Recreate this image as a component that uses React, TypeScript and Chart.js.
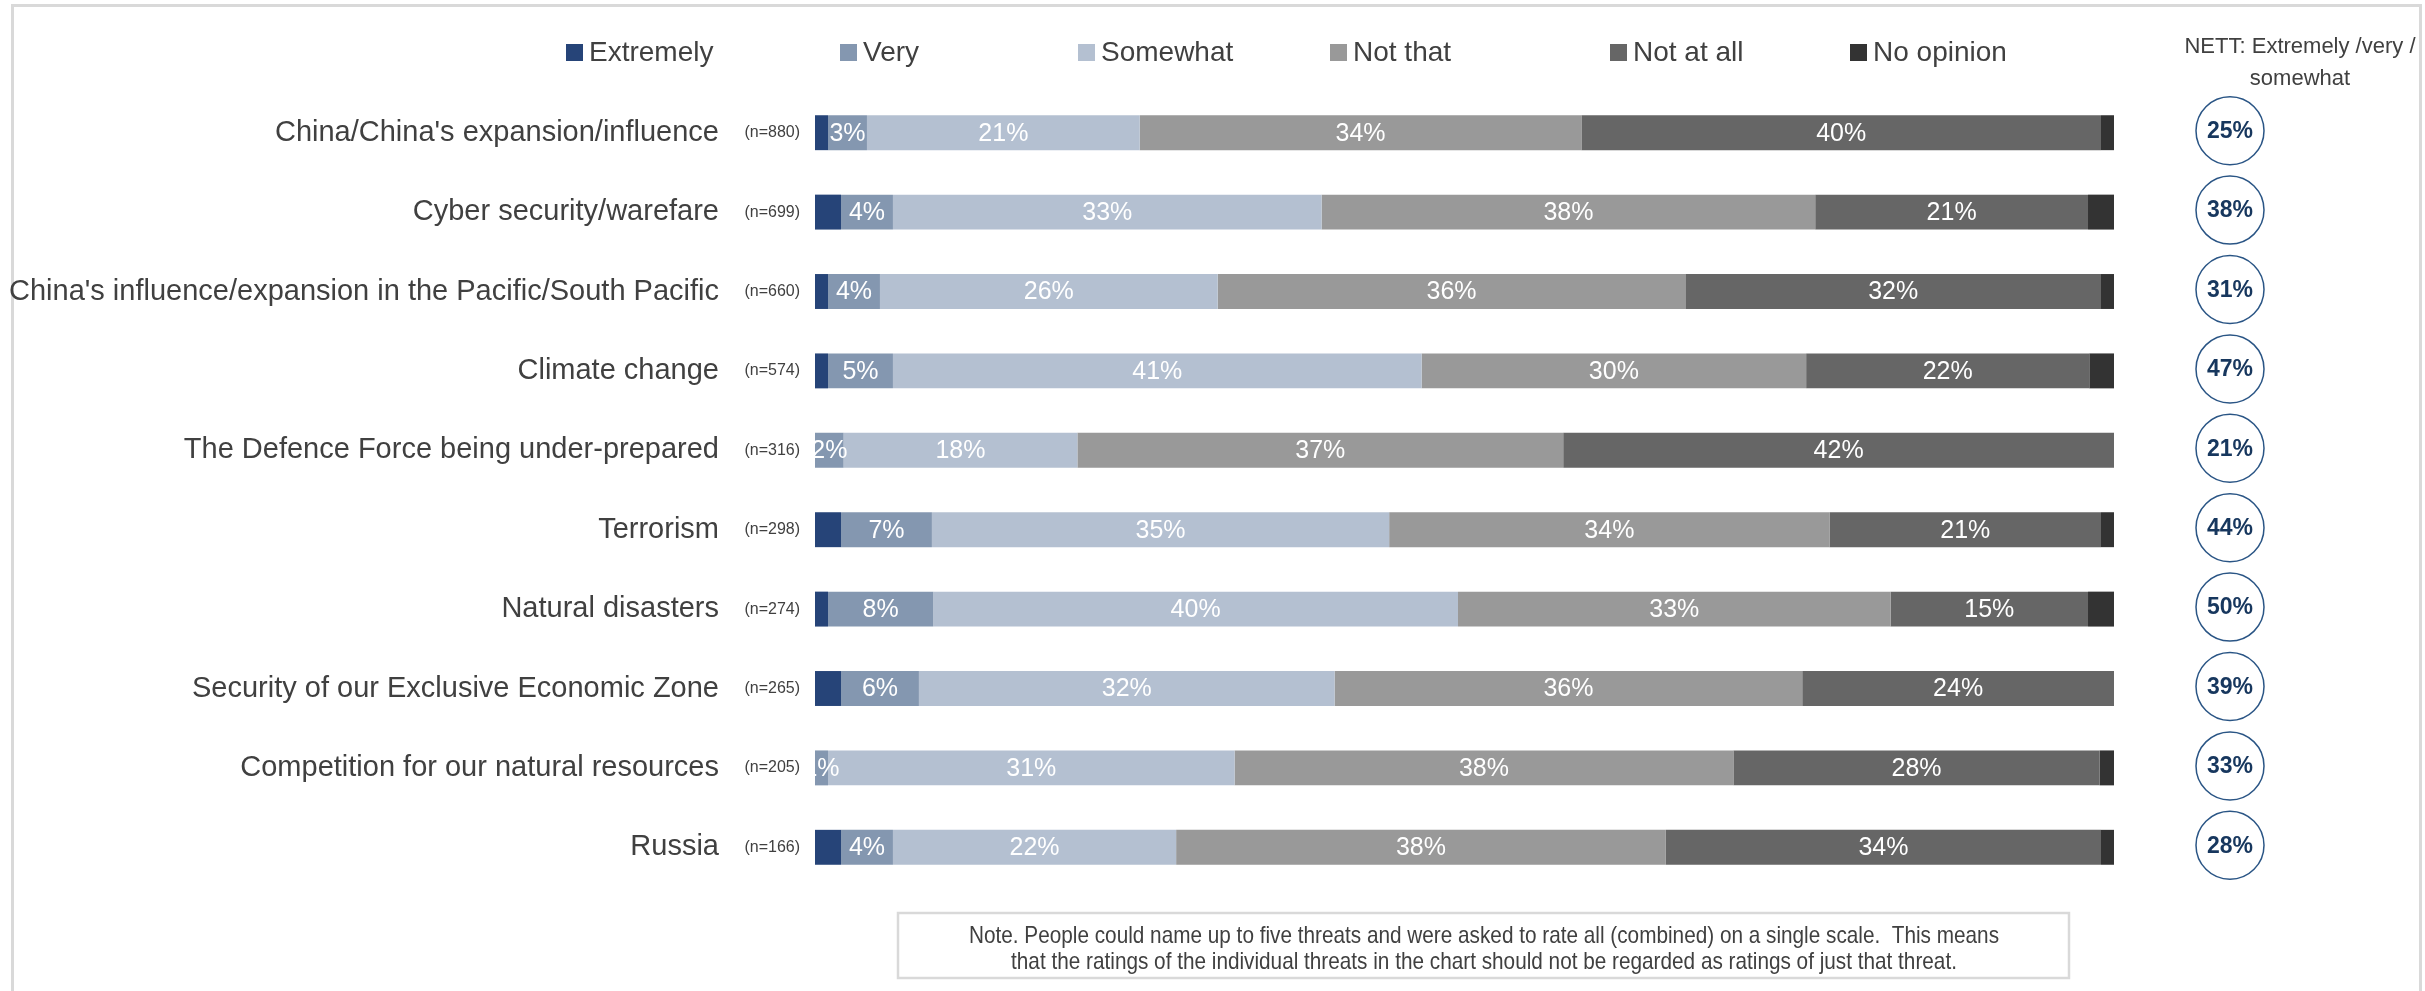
import React, { useEffect, useRef } from "react";
import { Chart, registerables } from "chart.js";

Chart.register(...registerables);

const categories = [
  "China/China's expansion/influence",
  "Cyber security/warefare",
  "China's influence/expansion in the Pacific/South Pacific",
  "Climate change",
  "The Defence Force being under-prepared",
  "Terrorism",
  "Natural disasters",
  "Security of our Exclusive Economic Zone",
  "Competition for our natural resources",
  "Russia",
];
const sampleSizes = [880, 699, 660, 574, 316, 298, 274, 265, 205, 166];

const seriesNames = ["Extremely", "Very", "Somewhat", "Not that", "Not at all", "No opinion"];
const extremely = [1, 2, 1, 1, 0, 2, 1, 2, 0, 2];
const very = [3, 4, 4, 5, 2.2, 7, 8.1, 6, 1, 4];
const somewhat = [21, 33, 26, 40.7, 18, 35.2, 40.4, 32, 31.3, 21.8];
const notThat = [34, 38, 36, 29.6, 37.4, 33.9, 33.3, 36, 38.4, 37.7];
const notAtAll = [40, 21, 32, 21.8, 42.4, 20.9, 15.2, 24, 28.2, 33.5];
const noOpinion = [1, 2, 1, 2, 0, 1.1, 2, 0, 1.1, 1.1];
const nett = [25, 38, 31, 47, 21, 44, 50, 39, 33, 28];

const nettHeader = ["NETT: Extremely /very /", "somewhat"];
const noteLines = [
  "Note. People could name up to five threats and were asked to rate all (combined) on a single scale.  This means",
  "that the ratings of the individual threats in the chart should not be regarded as ratings of just that threat.",
];

const COLORS = ["#264478", "#8497B0", "#B4C0D1", "#999999", "#666666", "#333333"];
const LABELLED = [false, true, true, true, true, false];
const FONT = "'Liberation Sans', Arial, sans-serif";
const TEXT = "#404040";
const LEGEND_X = [566, 840, 1078, 1330, 1610, 1850];

const W = 2425;
const H = 991;

const overlayPlugin = {
  id: "overlay",
  beforeDraw(chart: any) {
    const ctx = chart.ctx;
    ctx.save();
    ctx.fillStyle = "#ffffff";
    ctx.fillRect(0, 0, chart.width, chart.height);
    ctx.strokeStyle = "#d9d9d9";
    ctx.lineWidth = 3;
    ctx.strokeRect(12.5, 5.5, 2408, 1010);
    ctx.restore();
  },
  afterDatasetsDraw(chart: any) {
    const ctx = chart.ctx;
    const area = chart.chartArea;
    ctx.save();
    ctx.beginPath();
    ctx.rect(area.left, area.top, area.right - area.left, area.bottom - area.top);
    ctx.clip();
    ctx.font = `25px ${FONT}`;
    ctx.fillStyle = "#ffffff";
    ctx.textAlign = "center";
    ctx.textBaseline = "middle";
    chart.data.datasets.forEach((ds: any, di: number) => {
      if (!LABELLED[di]) return;
      const meta = chart.getDatasetMeta(di);
      meta.data.forEach((bar: any, i: number) => {
        const v = ds.data[i];
        if (!v) return;
        const cx = (bar.x + bar.base) / 2;
        ctx.fillText(`${Math.round(v)}%`, cx, bar.y + 1);
      });
    });
    ctx.restore();
  },
  afterDraw(chart: any) {
    const ctx = chart.ctx;
    const yScale = chart.scales.y;
    ctx.save();
    // legend
    ctx.textBaseline = "middle";
    ctx.textAlign = "left";
    ctx.font = `28px ${FONT}`;
    chart.data.datasets.forEach((ds: any, di: number) => {
      const x = LEGEND_X[di];
      ctx.fillStyle = ds.backgroundColor;
      ctx.fillRect(x, 44, 17, 17);
      ctx.fillStyle = TEXT;
      ctx.fillText(ds.label, x + 23, 53);
    });
    // NETT header
    ctx.textAlign = "center";
    ctx.font = `22px ${FONT}`;
    ctx.fillStyle = TEXT;
    ctx.fillText(nettHeader[0], 2300, 47);
    ctx.fillText(nettHeader[1], 2300, 79);
    // sample sizes and nett circles
    categories.forEach((_, i) => {
      const y = yScale.getPixelForValue(i);
      ctx.textAlign = "right";
      ctx.font = `16px ${FONT}`;
      ctx.fillStyle = TEXT;
      ctx.fillText(`(n=${sampleSizes[i]})`, 800, y);
      ctx.beginPath();
      ctx.arc(2230, y - 2, 34, 0, Math.PI * 2);
      ctx.fillStyle = "#ffffff";
      ctx.fill();
      ctx.strokeStyle = "#2A5585";
      ctx.lineWidth = 1.5;
      ctx.stroke();
      ctx.textAlign = "center";
      ctx.font = `bold 23px ${FONT}`;
      ctx.fillStyle = "#17375E";
      ctx.fillText(`${nett[i]}%`, 2230, y - 1);
    });
    // note box
    ctx.strokeStyle = "#d9d9d9";
    ctx.lineWidth = 2.5;
    ctx.strokeRect(898, 913, 1171, 65);
    ctx.font = `24px ${FONT}`;
    ctx.fillStyle = TEXT;
    ctx.textAlign = "center";
    const k = 1030 / ctx.measureText(noteLines[0]).width;
    const cx = 1484;
    [936, 962].forEach((ly, li) => {
      ctx.save();
      ctx.translate(cx, ly);
      ctx.scale(k, 1);
      ctx.fillText(noteLines[li], 0, 0);
      ctx.restore();
    });
    ctx.restore();
  },
};

export default function App() {
  const ref = useRef<HTMLCanvasElement | null>(null);
  useEffect(() => {
    if (!ref.current) return;
    const seriesValues = [extremely, very, somewhat, notThat, notAtAll, noOpinion];
    const chart = new Chart(ref.current, {
      type: "bar",
      data: {
        labels: categories,
        datasets: seriesNames.map((name, i) => ({
          label: name,
          data: seriesValues[i],
          backgroundColor: COLORS[i],
          borderWidth: 0,
          barPercentage: 0.44,
          categoryPercentage: 1,
        })),
      },
      options: {
        indexAxis: "y",
        responsive: false,
        animation: false,
        layout: { padding: { top: 93, bottom: 104, right: 311, left: 0 } },
        plugins: { legend: { display: false }, tooltip: { enabled: false } },
        scales: {
          x: { stacked: true, min: 0, max: 100, display: false },
          y: {
            stacked: true,
            grid: { display: false, drawTicks: false },
            border: { display: false },
            afterFit: (scale: any) => {
              scale.width = 815;
              scale.paddingTop = 0;
              scale.paddingBottom = 0;
            },
            ticks: {
              padding: 96,
              color: TEXT,
              font: { family: FONT, size: 29 },
            },
          },
        },
      },
      plugins: [overlayPlugin],
    } as any);
    return () => chart.destroy();
  }, []);
  return (
    <div style={{ position: "fixed", left: 0, top: 0, width: W, height: H, background: "#fff" }}>
      <canvas ref={ref} width={W} height={H} style={{ display: "block" }} />
    </div>
  );
}
